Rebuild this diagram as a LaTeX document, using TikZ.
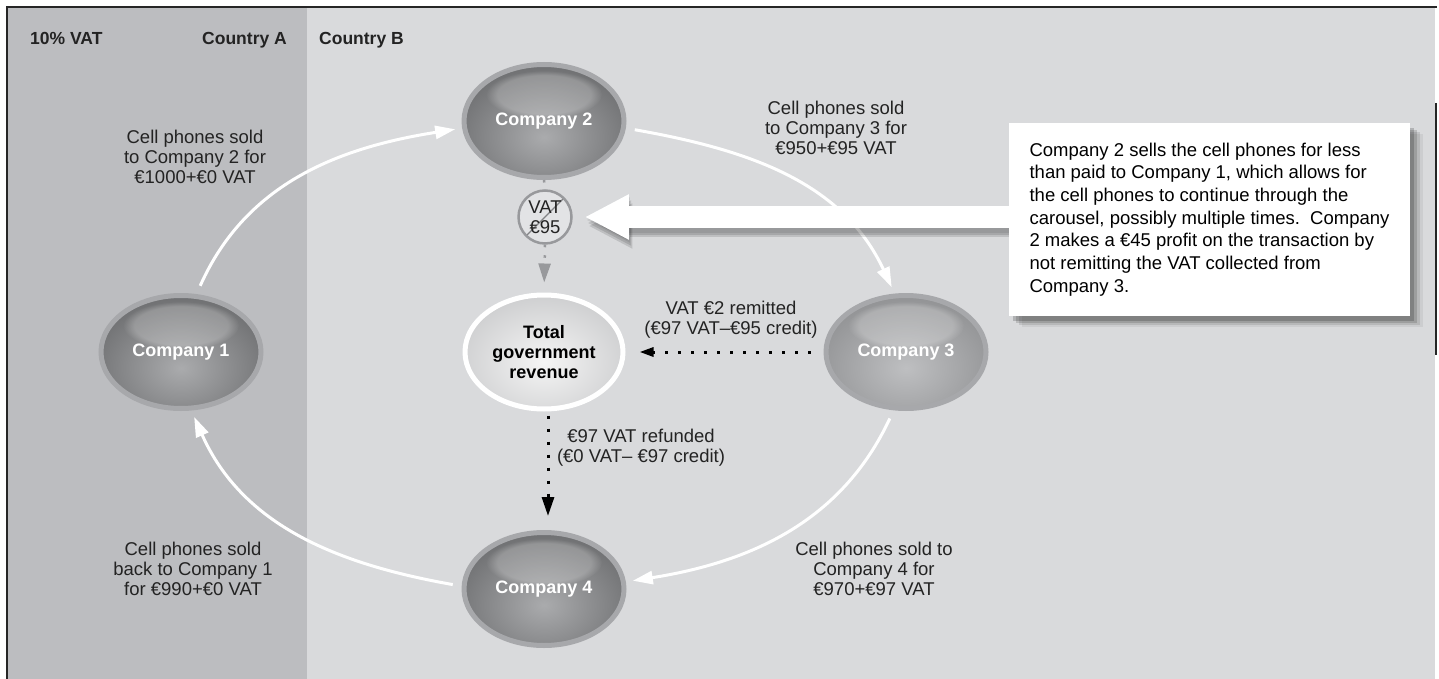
\documentclass[tikz,border=0pt]{standalone}
\usepackage{fontspec}
\setmainfont{Liberation Sans}
\usepackage{tikz}
\usetikzlibrary{positioning,calc,shapes.geometric,arrows.meta,shadows,fadings}
\definecolor{PaneA}{RGB}{188,189,192}
\definecolor{PaneB}{RGB}{217,218,220}
\definecolor{CoRing}{RGB}{167,168,171}
\definecolor{CoDark}{RGB}{96,97,99}
\definecolor{CoLight}{RGB}{170,171,173}
\definecolor{CoPaleDark}{RGB}{135,136,138}
\definecolor{CoPale}{RGB}{190,191,193}
\definecolor{GovEdge}{RGB}{190,191,193}
\definecolor{VatGray}{RGB}{152,153,156}
\definecolor{VatFill}{RGB}{226,227,229}
\definecolor{InkGray}{RGB}{35,35,35}
\tikzset{
  co/.style 2 args={ellipse,draw=CoRing,line width=5pt,minimum width=160pt,
    minimum height=113pt,text=white,font=\bfseries\fontsize{18}{20}\selectfont,
    path picture={
      \fill[#2] (path picture bounding box.south west) rectangle (path picture bounding box.north east);
      \shade[inner color=#1,outer color=#2] ([yshift=-16pt]path picture bounding box.center) ellipse (120pt and 90pt);
      \fill[white,opacity=.22,path fading=circle with fuzzy edge 20 percent]
        ([yshift=-30pt]path picture bounding box.north) ellipse (58pt and 24pt);
    }},
  company/.style={co={CoLight}{CoDark}},
  companypale/.style={co={CoPale}{CoPaleDark}},
  govt/.style={ellipse,draw=white,line width=5pt,minimum width=158pt,minimum height=114pt,
    align=center,text=black,font=\bfseries\fontsize{18}{20}\selectfont,
    path picture={
      \fill[GovEdge] (path picture bounding box.south west) rectangle (path picture bounding box.north east);
      \shade[inner color=white!96!black,outer color=GovEdge] ([yshift=-10pt]path picture bounding box.center) ellipse (125pt and 95pt);
    }},
  vatbox/.style={circle,draw=VatGray,line width=2.5pt,fill=VatFill,minimum size=53pt,inner sep=0pt,
    align=center,text=InkGray,font=\fontsize{18.5}{20}\selectfont,
    path picture={\draw[VatGray!85!black,line width=1.1pt] (path picture bounding box.south west) -- (path picture bounding box.north east);}},
  lbl/.style={align=center,inner sep=0pt,text=InkGray,font=\fontsize{18.5}{20}\selectfont},
  head/.style={inner sep=0pt,text=InkGray,font=\bfseries\fontsize{17.5}{20}\selectfont},
  notebox/.style={fill=white,minimum width=401pt,minimum height=193pt,inner sep=0pt,align=left,
    text=black,font=\fontsize{18.5}{22.7}\selectfont,
    drop shadow={shadow xshift=13pt,shadow yshift=-11pt,opacity=.06,fill=black},
    drop shadow={shadow xshift=10pt,shadow yshift=-9pt,opacity=.10,fill=black},
    drop shadow={shadow xshift=7pt,shadow yshift=-7pt,opacity=.14,fill=black},
    drop shadow={shadow xshift=4pt,shadow yshift=-5pt,opacity=.18,fill=black}},
  flow/.style={draw=white,line width=3pt,shorten <=9pt,shorten >=7pt,-{Triangle[length=20pt,width=13pt]}},
  taxflow/.style={draw=black,line width=3pt,dash pattern=on 3pt off 10pt},
  vatflow/.style={draw=VatGray,line width=2.5pt,dash pattern=on 2.5pt off 8pt},
  bigarrow/.style={draw=white,line width=22pt,-{Triangle[length=44pt,width=42pt]}},
}
\begin{document}
\begin{tikzpicture}[x=1pt,y=1pt]
\useasboundingbox (0,0) rectangle (1439,-679);
% the two countries
\fill[PaneA] (8,-8) rectangle (307,-679);
\fill[PaneB] (307,-8) rectangle (1435,-679);
\draw[black!85,line width=2pt] (7,-679) -- (7,-7) -- (1437,-7);
\draw[black!85,line width=2pt] (1435.5,-103) -- (1435.5,-355);

\node[head,anchor=base west] (vatrate) at (30,-45) {10\% VAT};
\node[head,anchor=base east] (ctryA) at (287,-45) {Country A};
\node[head,anchor=base west] (ctryB) at (319,-45) {Country B};

% companies round the carousel
\foreach \n/\x/\y in {1/181/-352,2/544/-121,4/544/-589}
  \node[company] (c\n) at (\x,\y) {Company \n};
\node[companypale] (c3) at (906,-352) {Company 3};
\node[govt] (gov) at (544,-352) {Total\\government\\revenue};
\node[vatbox] (vat) at (545,-217) {VAT\\€95};

\draw[flow] (c1.75) to[out=66,in=189] (c2.185);
\draw[flow] (c2.-5) to[out=-10,in=115] (c3.101);
\draw[flow] (c3.-102) to[out=-115,in=9] (c4.5);
\draw[flow] (c4.178) to[out=170,in=-66] (c1.-80);

\node[lbl] (sale12) at (195,-157) {Cell phones sold\\to Company 2 for\\€1000+€0 VAT};
\node[lbl] (sale23) at (836,-128) {Cell phones sold\\to Company 3 for\\€950+€95 VAT};
\node[lbl] (sale34) at (874,-569) {Cell phones sold to\\Company 4 for\\€970+€97 VAT};
\node[lbl] (sale41) at (193,-569) {Cell phones sold\\back to Company 1\\for €990+€0 VAT};

% vat flows
\draw[vatflow] (c2.south) -- (vat.north);
\draw[vatflow,shorten >=10pt,-{Triangle[length=19pt,width=12pt]}] (vat.south) -- (gov.north);
\draw[taxflow,shorten <=13pt,shorten >=14pt,-{Triangle[length=14pt,width=9pt]}] (c3.west) -- (gov.east);
\draw[taxflow,shorten <=4pt,shorten >=14pt,-{Triangle[length=19pt,width=12pt]}] ([xshift=4pt]gov.south) -- ([xshift=4pt]c4.north);
\node[lbl] (remit) at (731,-320) {VAT €2 remitted\\(€97 VAT–€95 credit)};
\node[lbl] (refund) at (641,-448) {€97 VAT refunded\\(€0 VAT– €97 credit)};

% callout
\node[notebox] (note) at (1209.5,-219.5) {Company 2 sells the cell phones for less\\
than paid to Company 1, which allows for\\
the cell phones to continue through the\\
carousel, possibly multiple times.\ \ Company\\
2 makes a €45 profit on the transaction by\\
not remitting the VAT collected from\\
Company 3.};
\foreach \s/\w/\o in {3/26/.08,6/24/.12,9/22/.12}
  \draw[black,opacity=\o,line width=\w pt,shorten >=12pt,-{Triangle[length=44pt,width=42pt]}]
    ([yshift=-\s pt]vat -| note.west) -- ([shift={(\s*0.4,-\s)}]vat.east);
\draw[bigarrow,shorten >=12pt] (vat -| note.west) -- (vat.east);
\end{tikzpicture}
\end{document}
